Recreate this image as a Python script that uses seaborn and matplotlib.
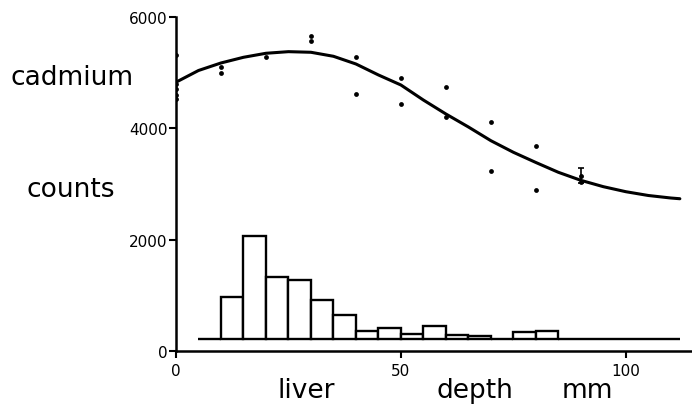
import pandas as pd
import matplotlib
matplotlib.use("Agg")
from matplotlib import pyplot as plt
import seaborn as sns

# fitted curve, every 5 mm
curve_depth = [0, 5, 10, 15, 20, 25, 30, 35, 40, 45, 50, 55, 60, 65, 70,
               75, 80, 85, 90, 95, 100, 105, 110, 112]
curve_counts = [4830, 5040, 5175, 5277, 5349, 5378, 5367, 5295, 5157, 4960,
                4780, 4510, 4260, 4027, 3781, 3573, 3390, 3214, 3070, 2956,
                2866, 2798, 2753, 2740]

# single measurements
point_depth = [0, 0, 0, 0, 0, 10, 10, 20, 30, 30, 40, 40, 50, 50,
               60, 60, 70, 70, 80, 80, 90]
point_counts = [5310, 4800, 4700, 4600, 4530, 5100, 5000, 5280, 5665, 5575,
                5290, 4620, 4910, 4440, 4750, 4200, 4120, 3230, 3690, 2900,
                3040]

# the one point with an error bar
err_depth = [90]
err_counts = [3150]
err_size = [135]

# histogram of depths, drawn on a baseline just above zero
hist_base = 230
hist_left = [5, 10, 15, 20, 25, 30, 35, 40, 45, 50, 55, 60, 65, 70, 75, 80,
             85, 90, 95, 100, 105, 110]
hist_width = [5, 5, 5, 5, 5, 5, 5, 5, 5, 5, 5, 5, 5, 5, 5, 5, 5, 5, 5, 5, 5, 2]
hist_top = [230, 983, 2077, 1331, 1288, 924, 660, 373, 416, 314, 463, 296,
            283, 230, 355, 368, 230, 230, 230, 230, 230, 230]

x_ticks = [0, 50, 100]
y_ticks = [0, 2000, 4000, 6000]

sns.set_style("ticks")
plt.rcParams['font.family'] = ['DejaVu Sans']
plt.rcParams['text.color'] = 'black'

fig = plt.figure(figsize=(6.92, 4.06), dpi=100)
ax = fig.add_axes([0.2543, 0.1318, 0.7457, 0.8239])

ax.bar(hist_left, [t - hist_base for t in hist_top], width=hist_width,
       bottom=hist_base, align='edge', facecolor='white', edgecolor='black',
       linewidth=1.7, zorder=2)

curve = pd.DataFrame({'depth': curve_depth, 'counts': curve_counts})
sns.lineplot(data=curve, x='depth', y='counts', color='black', linewidth=2.2,
             ax=ax, zorder=3)

points = pd.DataFrame({'depth': point_depth, 'counts': point_counts})
sns.scatterplot(data=points, x='depth', y='counts', color='black', s=12,
                linewidth=0, ax=ax, zorder=4)

ax.errorbar(err_depth, err_counts, yerr=err_size, fmt='o', color='black',
            ms=2.5, capsize=2.5, elinewidth=1.2, capthick=1.2, zorder=4)

ax.set_xlim(0, 114.7)
ax.set_ylim(0, 6000)
ax.set_xticks(x_ticks)
ax.set_yticks(y_ticks)
ax.set_xticklabels([str(v) for v in x_ticks])
ax.set_yticklabels([str(v) for v in y_ticks])
ax.set_xlabel('')
ax.set_ylabel('')
sns.despine(ax=ax)
for side in ['left', 'bottom']:
    ax.spines[side].set_linewidth(1.8)
    ax.spines[side].set_color('black')
ax.tick_params(direction='out', length=5, width=1.5, labelsize=11,
               colors='black')
ax.tick_params(axis='x', pad=3)
ax.tick_params(axis='y', pad=1)

fig.text(10 / 692, 1 - 85 / 406, 'cadmium', fontsize=19, va='baseline', color='black')
fig.text(26 / 692, 1 - 197 / 406, 'counts', fontsize=19, va='baseline', color='black')
fig.text(277 / 692, 1 - 398 / 406, 'liver', fontsize=19, va='baseline', color='black')
fig.text(437 / 692, 1 - 398 / 406, 'depth', fontsize=19, va='baseline', color='black')
fig.text(562 / 692, 1 - 398 / 406, 'mm', fontsize=19, va='baseline', color='black')

fig.savefig('out.png', dpi=100, facecolor='white')
